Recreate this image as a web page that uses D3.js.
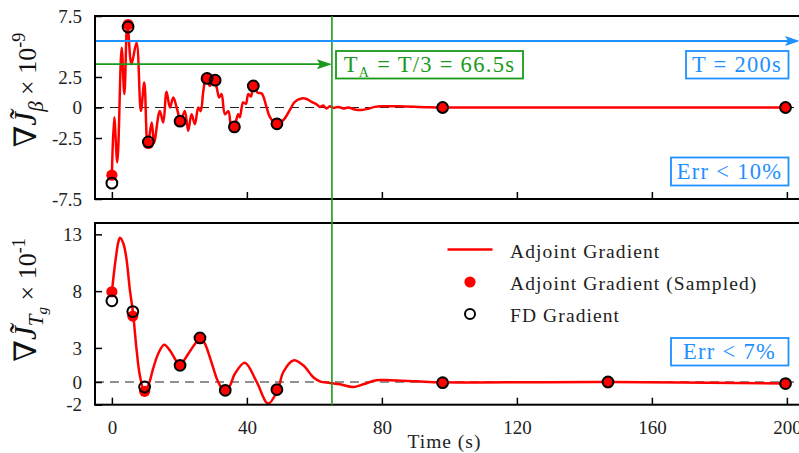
<!DOCTYPE html>
<html><head><meta charset="utf-8">
<script src="https://cdn.jsdelivr.net/npm/d3@7"></script>
<style>
html,body{margin:0;padding:0;background:#fff;}
svg text{font-family:"Liberation Serif","DejaVu Serif",serif;}
</style></head>
<body><svg id="c" width="799" height="453"></svg>
<script>
// ---------- data ----------
const topCurveT = [0,0.7,1.6,2.9,3.7,4.6,5.8,7.3,8.6,9.6,10.6,11.8,12.5,14.2,15.2,16.2,17.2,18.2,19.2,20.4,21.6,22.6,23.6,24.6,25.6,26.3,27.1,27.9,29.0,30.0,31.0,31.8,32.5,33.5,34.5,35.5,36.3,37.4,37.9,38.9,39.7,40.4,41.2,41.9,43.1,44.4,45.8,46.8,48.8,50.8,52.7,54.2,56.2,57.7,59.2,60.6,61.6,62.6,63.6,64.6,65.6,67.1,68.6,70.1,72,74,76,77.9,80.4,85,93,98,150,199.6];
const topCurveV = [-5.55,-0.8,-4.5,4.9,1.1,7.0,3.55,5.3,-0.28,2.05,-3.1,-1.23,-2.87,-0.28,-1.23,1.3,0,0.82,0,-1.1,-0.28,-1.9,-0.55,-1.37,0,-0.3,1.36,2.5,1.77,2.46,1.7,0.82,1.1,-0.55,-0.3,-1.78,-1.6,-0.55,-0.8,0.41,0.3,1.1,0.9,1.77,1.23,1.15,0.05,-0.77,-1.37,-1.04,-0.22,0.46,0.74,0.7,0.46,0.27,0.05,0.16,-0.08,0.1,-0.03,0.05,-0.08,0.0,-0.16,-0.2,-0.1,0.05,0.1,0.1,0.03,0,0,0];
const topSampleT = [0,4.8,10.8,20.2,28.2,30.6,36.3,41.9,48.9,98,199.6];
const topAdjoint = [-5.55,6.8,-2.95,-1.12,2.4,2.24,-1.6,1.77,-1.34,0,0];
const topFD      = [-6.2,6.6,-2.82,-1.12,2.38,2.24,-1.59,1.77,-1.34,0,0];

const botCurveT = [0,0.9,1.9,2.4,3.4,4.3,5.3,6.3,7.3,8.3,9.6,10.8,12.2,13.7,15.5,17.2,18.7,20.1,22.6,24.6,26.3,27.6,29.5,31.5,33.2,35,36.4,39.4,42.9,46.3,49.1,50.8,53.8,56.7,59.6,61.6,64.6,67.6,71.5,74.5,78.4,82.4,90.3,98,147,199.6];
const botCurveV = [7.9,10.3,12.3,12.7,12.2,10.9,8.2,6.0,2.9,0.56,-0.76,-0.3,1.15,2.47,3.27,2.77,2.03,1.5,2.47,3.35,3.9,3.35,1.74,0,-0.76,-0.3,0.7,1.7,0,-1.9,-0.73,0.88,1.9,1.47,0.44,0.06,-0.08,-0.2,-0.44,-0.2,0.15,0.15,0.06,-0.03,0.0,-0.14];
const botSampleT = [0,6.2,9.7,20.2,26.1,33.6,48.9,98,147,199.6];
const botAdjoint = [7.94,5.8,-0.82,1.47,3.88,-0.73,-0.67,-0.06,0,-0.14];
const botFD      = [7.15,6.2,-0.44,1.47,3.88,-0.73,-0.67,-0.06,0,-0.14];

const xTicks = [0,40,80,120,160,200];
const topYTicks = [7.5,2.5,0,-2.5,-7.5];
const topYTickLabels = ["7.5","2.5","0","-2.5","-7.5"];
const botYTicks = [13,8,3,0,-2];
const botYTickLabels = ["13","8","3","0","-2"];
const legendLabels = ["Adjoint Gradient","Adjoint Gradient (Sampled)","FD Gradient"];
const tAline = 65.2;      // drawn position of the T_A vertical line
const blueLevel = 5.45, greenLevel = 3.55;

// ---------- layout ----------
const RED="#ff0000", BLUE="#1E90FF", GREEN="#1a9a1a";
const svg = d3.select("#c");
const x = d3.scaleLinear().domain([-5,205]).range([95,803.75]);
const yT = d3.scaleLinear().domain([-7.5,7.5]).range([199,16]);
const yB = d3.scaleLinear().domain([-2,14]).range([404.7,223]);

const defs = svg.append("defs");
defs.append("clipPath").attr("id","clipT").append("rect").attr("x",95).attr("y",16).attr("width",710).attr("height",183);
defs.append("clipPath").attr("id","clipB").append("rect").attr("x",95).attr("y",223).attr("width",710).attr("height",181.7);

function panel(y, yTicks, yLabels, curveT, curveV, sT, sA, sF, clip, showX){
  const g = svg.append("g");
  g.append("line").attr("x1",95).attr("x2",804).attr("y1",y(0)).attr("y2",y(0))
    .attr("stroke","#222").attr("stroke-width",1.2).attr("stroke-dasharray","9,6");
  const line = d3.line().x((d,i)=>x(curveT[i])).y((d,i)=>y(curveV[i])).curve(d3.curveCatmullRom.alpha(0.5));
  g.append("path").attr("clip-path",`url(#${clip})`).datum(curveV).attr("d",line)
    .attr("fill","none").attr("stroke",RED).attr("stroke-width",2.5).attr("stroke-linejoin","round");
  g.selectAll(".sa").data(sA).enter().append("circle").attr("cx",(d,i)=>x(sT[i])).attr("cy",d=>y(d))
    .attr("r",5.6).attr("fill",RED);
  g.selectAll(".sf").data(sF).enter().append("circle").attr("cx",(d,i)=>x(sT[i])).attr("cy",d=>y(d))
    .attr("r",5.4).attr("fill","none").attr("stroke","#000").attr("stroke-width",2);
  const ya = d3.axisLeft(y).tickValues(yTicks).tickSize(-7).tickPadding(13).tickFormat((d,i)=>yLabels[i]);
  const ga = g.append("g").attr("transform","translate(95,0)").call(ya);
  ga.select(".domain").remove();
  ga.selectAll("line").attr("stroke","#000").attr("stroke-width",1.5);
  ga.selectAll("text").attr("font-size",19).attr("fill","#222").attr("font-family","Liberation Serif");
  const xa = d3.axisBottom(x).tickValues(xTicks).tickSize(-7).tickPadding(16).tickFormat(showX?d3.format("d"):"");
  const gx = g.append("g").attr("transform",`translate(0,${y.range()[0]})`).call(xa);
  gx.select(".domain").remove();
  gx.selectAll("line").attr("stroke","#000").attr("stroke-width",1.5);
  gx.selectAll("text").attr("font-size",19).attr("fill","#222").attr("font-family","Liberation Serif");
  g.append("rect").attr("x",95).attr("y",y.range()[1]).attr("width",708.75).attr("height",y.range()[0]-y.range()[1])
    .attr("fill","none").attr("stroke","#000").attr("stroke-width",2);
  return g;
}
panel(yT, topYTicks, topYTickLabels, topCurveT, topCurveV, topSampleT, topAdjoint, topFD, "clipT", false);
panel(yB, botYTicks, botYTickLabels, botCurveT, botCurveV, botSampleT, botAdjoint, botFD, "clipB", true);

svg.append("line").attr("x1",x(tAline)).attr("x2",x(tAline)).attr("y1",16).attr("y2",404.7)
  .attr("stroke",GREEN).attr("stroke-width",1.6);

function arrow(y1, xEnd, color){
  svg.append("line").attr("x1",96).attr("x2",xEnd-10).attr("y1",y1).attr("y2",y1).attr("stroke",color).attr("stroke-width",1.8);
  svg.append("path").attr("d",`M${xEnd},${y1} L${xEnd-15},${y1-5} L${xEnd-12},${y1} L${xEnd-15},${y1+5} Z`).attr("fill",color);
}
arrow(yT(blueLevel), 800, BLUE);
arrow(yT(greenLevel), x(tAline), GREEN);

function box(x0,y0,w,h,color){
  svg.append("rect").attr("x",x0).attr("y",y0).attr("width",w).attr("height",h).attr("fill","#fff").attr("stroke",color).attr("stroke-width",1.8);
}
box(336,51,187,27.5,GREEN);
const tA = svg.append("text").attr("x",429.5).attr("y",72).attr("text-anchor","middle").attr("fill",GREEN).attr("font-size",22.5).attr("letter-spacing",1.3);
tA.append("tspan").text("T");
tA.append("tspan").attr("font-size",14).attr("dy",5).text("A");
tA.append("tspan").attr("dy",-5).text(" = T/3 = 66.5s");

box(686,51,102.5,27.5,BLUE);
svg.append("text").attr("x",737).attr("y",72).attr("text-anchor","middle").attr("fill",BLUE).attr("font-size",22.5).attr("letter-spacing",1.3).text("T = 200s");
box(671,157.5,117.5,28,BLUE);
svg.append("text").attr("x",729.5).attr("y",179).attr("text-anchor","middle").attr("fill",BLUE).attr("font-size",22.5).attr("letter-spacing",1.3).text("Err < 10%");
box(671,338,117.5,27.5,BLUE);
svg.append("text").attr("x",729.5).attr("y",359).attr("text-anchor","middle").attr("fill",BLUE).attr("font-size",22.5).attr("letter-spacing",1.3).text("Err < 7%");

const lg = svg.append("g");
lg.append("line").attr("x1",447.5).attr("x2",492.5).attr("y1",249.5).attr("y2",249.5).attr("stroke",RED).attr("stroke-width",2.5);
lg.append("circle").attr("cx",470).attr("cy",282).attr("r",5.6).attr("fill",RED);
lg.append("circle").attr("cx",470).attr("cy",314).attr("r",5).attr("fill","none").attr("stroke","#000").attr("stroke-width",2);
legendLabels.forEach((t,i)=>{
  lg.append("text").attr("x",510).attr("y",257.5+i*32).attr("font-size",19.5).attr("letter-spacing",1.1).attr("fill","#222").text(t);
});

svg.append("text").attr("x",444.5).attr("y",448).attr("text-anchor","middle").attr("font-size",19.5).attr("letter-spacing",1).attr("fill","#222").text("Time (s)");

function ylabel(cx, cy, sub, exp){
  const t = svg.append("text").attr("transform",`translate(${cx},${cy}) rotate(-90)`).attr("text-anchor","middle").attr("fill","#111").attr("font-size",31);
  t.append("tspan").text("∇");
  t.append("tspan").attr("font-style","italic").text("J\u0303");
  t.append("tspan").attr("font-size",21).attr("dy",7).attr("font-style","italic").text(sub[0]);
  if(sub.length>1) t.append("tspan").attr("font-size",15).attr("font-style","italic").attr("dy",4).text(sub[1]);
  t.append("tspan").attr("dy",sub.length>1?-11:-7).attr("font-size",26).text(" × 10");
  t.append("tspan").attr("dy",-11).attr("font-size",18).text(exp);
}
ylabel(36, 90, ["β"], "-9");
ylabel(36, 300, ["T","g"], "-1");
</script></body></html>
